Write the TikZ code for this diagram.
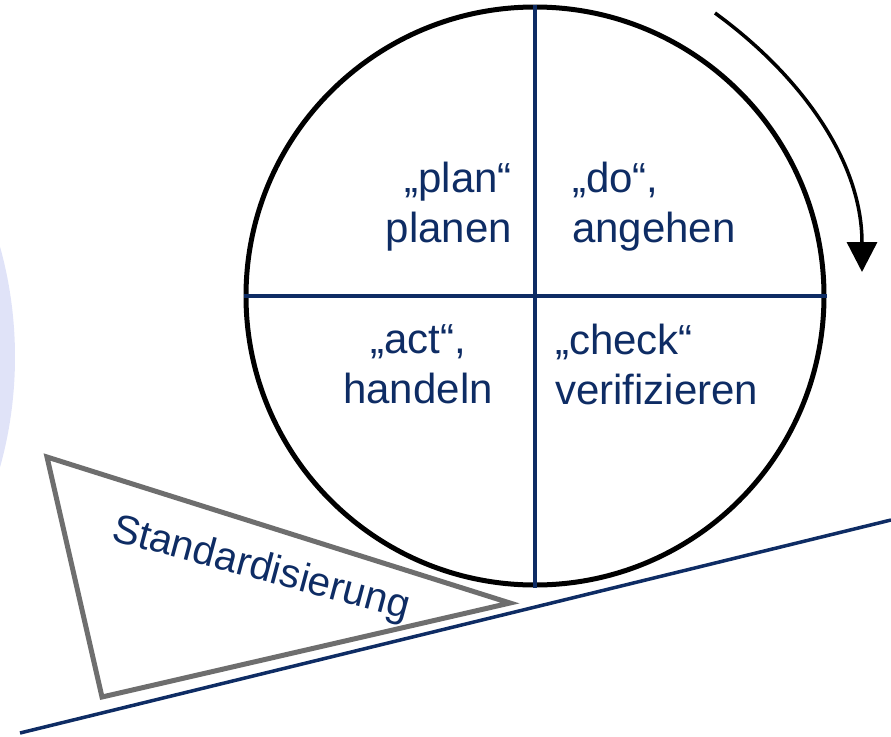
\documentclass[tikz,border=0pt]{standalone}
\usepackage{fontspec}
\setmainfont{Liberation Sans}
\usetikzlibrary{arrows.meta}

\definecolor{navy}{RGB}{14,44,100}
\definecolor{lavender}{RGB}{224,227,248}
\definecolor{wedgegray}{RGB}{110,110,110}

\tikzset{
  ring/.style={circle, draw=black, line width=5pt, minimum size=578pt, inner sep=0pt},
  divider/.style={draw=navy, line width=4pt},
  phase/.style={text=navy, inner sep=0pt, font=\fontsize{42}{50}\selectfont},
  wedge/.style={draw=wedgegray, line width=5pt, line join=miter},
  wedgelabel/.style={text=navy, inner sep=0pt, font=\fontsize{40.5}{46}\selectfont},
  slope/.style={draw=navy, line width=3.5pt},
  turn/.style={draw=black, line width=3.5pt, -{Triangle[width=30pt,length=30pt]}}
}

\begin{document}
\begin{tikzpicture}[x=1pt, y=-1pt]
  \useasboundingbox (0,0) rectangle (891,736);

  % soft background disc at the left edge
  \begin{scope}
    \clip (0,0) rectangle (891,736);
    \fill[lavender] (-396,357) circle[radius=411pt];
  \end{scope}

  % inclined plane
  \coordinate (slopeA) at (20,733);
  \coordinate (slopeB) at (891,520);
  \draw[slope] (slopeA) -- (slopeB);

  % wedge holding the wheel
  \coordinate (wedgeTop) at (47,457);
  \coordinate (wedgeTip) at (510,603);
  \coordinate (wedgeFoot) at (102,697);
  \draw[wedge] (wedgeTop) -- (wedgeTip) -- (wedgeFoot) -- cycle;
  \node[wedgelabel, rotate=-15, anchor=base west] (stdlabel) at (110,540) {Standardisierung};

  % PDCA wheel
  \node[ring] (wheel) at (535,296) {};
  \draw[divider] (wheel.north) -- (wheel.south);
  \draw[divider] (wheel.west) -- (wheel.east);

  \node[phase, align=right, anchor=north east] (plan) at (512,162) {„plan“\\planen};
  \node[phase, align=left, anchor=north west] (do) at (572,162) {„do“,\\angehen};
  \node[phase, align=center, anchor=north] (act) at (418,324) {„act“,\\handeln};
  \node[phase, align=left, anchor=north west] (check) at (555,324) {„check“\\verifizieren};

  % direction of rotation
  \coordinate (turnStart) at (715,13);
  \coordinate (turnEnd) at (862,272);
  \draw[turn] (turnStart) .. controls (800,75) and (862,160) .. (turnEnd);
\end{tikzpicture}
\end{document}
